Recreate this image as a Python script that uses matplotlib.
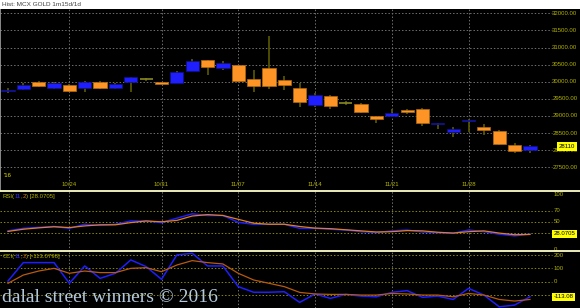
import matplotlib
matplotlib.use('Agg')
import matplotlib.pyplot as plt
import matplotlib.transforms as mtransforms

# ---- data ----
dates = ['10/18', '10/19', '10/20', '10/21', '10/24', '10/25', '10/26', '10/27', '10/28',
         '10/30', '10/31', '11/01', '11/02', '11/03', '11/04', '11/07', '11/08', '11/09',
         '11/10', '11/11', '11/14', '11/15', '11/16', '11/17', '11/18', '11/21', '11/22',
         '11/23', '11/24', '11/25', '11/28', '11/29', '11/30', '12/01', '12/02']
tick_labels = ['10/24', '10/31', '11/07', '11/14', '11/21', '11/28']

opens = [29740, 29790, 29990, 29820, 29900, 29820, 29990, 29820, 29990, 30080, 29990, 29960,
         30310, 30630, 30400, 30490, 30080, 30400, 30050, 29820, 29320, 29580, 29380, 29350,
         29000, 29000, 29170, 29200, 28760, 28530, 28860, 28680, 28560, 28150, 28000]
highs = [29820, 29960, 30030, 29990, 29930, 30020, 30010, 29960, 30150, 30110, 30000, 30300,
         30660, 30640, 30600, 30500, 30340, 31350, 30170, 29960, 29670, 29610, 29440, 29370,
         29000, 29200, 29200, 29220, 28800, 28680, 28910, 28760, 28590, 28200, 28150]
lows = [29680, 29760, 29850, 29790, 29700, 29700, 29790, 29800, 29700, 30020, 29920, 29950,
        30300, 30200, 30340, 29990, 29700, 29790, 29760, 29260, 29260, 29200, 29320, 29080,
        28790, 28970, 29060, 28700, 28620, 28380, 28530, 28440, 28150, 27915, 27915]
closes = [29770, 29900, 29870, 29960, 29730, 29990, 29820, 29930, 30140, 30080, 29930, 30280,
          30600, 30430, 30550, 30020, 29870, 29870, 29900, 29410, 29610, 29290, 29380, 29110,
          28910, 29080, 29110, 28800, 28780, 28620, 28890, 28590, 28180, 27970, 28110]

rsi = [33, 37.6, 39.4, 41, 37.6, 45, 43, 45, 51, 51, 48, 56, 64, 61, 61, 48.5, 45, 45, 45,
       37.6, 37.6, 36, 34.5, 31.5, 30, 33, 34.5, 31, 29.6, 28.5, 34.5, 31.5, 27, 24, 27]
rsi_sig = [32, 36, 38.5, 40.5, 39, 42, 44, 44, 48, 51, 49.5, 52, 60, 62.5, 61, 54, 47, 45, 45,
           41, 38, 37, 35, 33, 31, 31.5, 33.5, 33, 30.5, 29, 31.5, 33, 29, 26, 26.5]
cci = [5, 143, 143, 143, -12, 118, 25, 63, 163, 113, 18, 200, 213, 118, 118, -37, -79, -79,
       -75, -155, -92, -125, -95, -108, -113, -80, -67, -117, -108, -133, -50, -100, -188,
       -175, -113]
cci_sig = [-12, 50, 80, 100, 63, 80, 68, 68, 100, 105, 75, 125, 158, 143, 133, 63, 13, -12,
           -37, -80, -92, -95, -95, -100, -100, -88, -92, -100, -100, -113, -88, -100, -133,
           -145, -133]

price_levels = [27500, 28000, 28500, 29000, 29500, 30000, 30500, 31000, 31500, 32000]

W, H = 580, 308
plt.rcParams['font.family'] = ['Liberation Sans', 'DejaVu Sans']
fig = plt.figure(figsize=(W / 100, H / 100), dpi=100, facecolor='white')


def px_axes(top, bottom):
    a = fig.add_axes([0, 1 - bottom / H, 1, (bottom - top) / H])
    a.set_facecolor('black')
    a.set_xlim(-0.52, 37.26)
    a.set_xticks([])
    a.set_yticks([])
    for s in a.spines.values():
        s.set_visible(False)
    return a


ax = px_axes(9, 191)
rsi_ax = px_axes(191, 251)
cci_ax = px_axes(251, 308)
ax.set_ylim(26804, 32126)
rsi_ax.set_ylim(-3.6, 105.5)
cci_ax.set_ylim(-197, 230)

xs = list(range(len(dates)))
grid_end = 35.44
lab_x = 35.45
lab_col = '#b4b400'
fs = 4.3
tick_idx = [dates.index(d) for d in tick_labels]

# grids
for a in (ax, rsi_ax, cci_ax):
    for i in tick_idx:
        a.axvline(i, color='#707070', lw=0.7, ls=(0, (1.5, 2)), zorder=1)
ax.hlines(price_levels, -0.52, grid_end, color='#707070', lw=0.7, ls=(0, (1.5, 2)), zorder=1)
rsi_ax.hlines([30, 50, 70], -0.52, grid_end, color='#8a8a00', lw=0.7, ls=(0, (1.5, 2)), zorder=1)
cci_ax.hlines([-100, 0, 100, 200], -0.52, grid_end, color='#8a8a00', lw=0.7, ls=(0, (1.5, 2)), zorder=1)

# candles
for i, o, h, l, c in zip(xs, opens, highs, lows, closes):
    ax.vlines(i, l, h, color='#5a5a00', lw=1.2, zorder=2)
    if o == c:
        ax.hlines(o, i - 0.42, i + 0.42, color='#8a8a20', lw=1.2, zorder=3)
        continue
    up = c > o
    ax.bar(i, max(abs(c - o), 25), bottom=min(o, c), width=0.86,
           color='#1e1eff' if up else '#ff9426',
           edgecolor='#10108a' if up else '#b06a10', lw=0.5, zorder=3)

ax.axvline(-0.5, color='#a0a0a0', lw=1.2)

# right-hand price labels
for v in price_levels:
    ax.text(lab_x, v, f'{v:.2f}', color=lab_col, fontsize=fs, va='center', ha='left')
ax.text(lab_x + 0.45, closes[-1], f'{closes[-1]}', color='black', fontsize=fs, va='center',
        ha='left', bbox=dict(boxstyle='square,pad=0.3', fc='#ffff00', ec='none'), zorder=5)

# date labels
for i in tick_idx:
    ax.text(i, 26990, dates[i], color=lab_col, fontsize=fs, ha='center', va='center')
ax.text(-0.3, 27243, "'16", color='#e0e000', fontsize=fs, ha='left', va='center')

# RSI
rsi_ax.plot(xs, rsi, color='#1e1eff', lw=1.1, zorder=3)
rsi_ax.plot(xs, rsi_sig, color='#e08020', lw=0.9, zorder=4)
for v in [100, 70, 50, 0]:
    rsi_ax.text(lab_x + 0.1, v, str(v), color=lab_col, fontsize=fs, va='center', ha='left')
rsi_ax.text(lab_x + 0.1, 28.07, '28.0705', color='black', fontsize=fs, va='center', ha='left',
            bbox=dict(boxstyle='square,pad=0.25', fc='#ffff00', ec='none'), zorder=5)

# CCI
cci_ax.plot(xs, cci, color='#1e1eff', lw=1.1, zorder=3)
cci_ax.plot(xs, cci_sig, color='#b85a10', lw=0.9, zorder=4)
for v in [200, 100, 0]:
    cci_ax.text(lab_x + 0.1, v, str(v), color=lab_col, fontsize=fs, va='center', ha='left')
cci_ax.text(lab_x + 0.1, -113.08, '-113.08', color='black', fontsize=fs, va='center', ha='left',
            bbox=dict(boxstyle='square,pad=0.25', fc='#ffff00', ec='none'), zorder=5)

# panel separators
for a in (rsi_ax, cci_ax):
    a.spines['top'].set_visible(True)
    a.spines['top'].set_color('#ffffc8')
    a.spines['top'].set_linewidth(1.3)


def rainbow(a, x, y, pieces):
    renderer = fig.canvas.get_renderer()
    t = a.transAxes
    for s, col in pieces:
        txt = a.text(x, y, s, color=col, transform=t, fontsize=fs, va='top', ha='left', zorder=6)
        bb = txt.get_window_extent(renderer)
        t = mtransforms.offset_copy(txt.get_transform(), x=bb.width, units='dots')


rainbow(rsi_ax, 0.004, 0.95, [('RSI(', lab_col), ('11', '#3030ff'), (',', lab_col),
                              ('2', '#e08020'), (') [28.0705]', lab_col)])
rainbow(cci_ax, 0.004, 0.95, [('CCI(', lab_col), ('11', '#3030ff'), (',', lab_col),
                              ('2', '#b85a10'), (') [-113.0798]', lab_col)])

# header and watermark
fig.text(2 / W, 1 - 4.5 / H, 'Hist: MCX GOLD 1m15d/1d', color='#404040', fontsize=4.6,
         ha='left', va='center')
fig.text(2 / W, 1 - 302 / H, 'dalal street winners \u00a9 2016', color='#b4c8dc',
         fontsize=14, family='Liberation Serif', ha='left', va='baseline', zorder=10)

fig.savefig('out.png', dpi=100, facecolor=fig.get_facecolor())
